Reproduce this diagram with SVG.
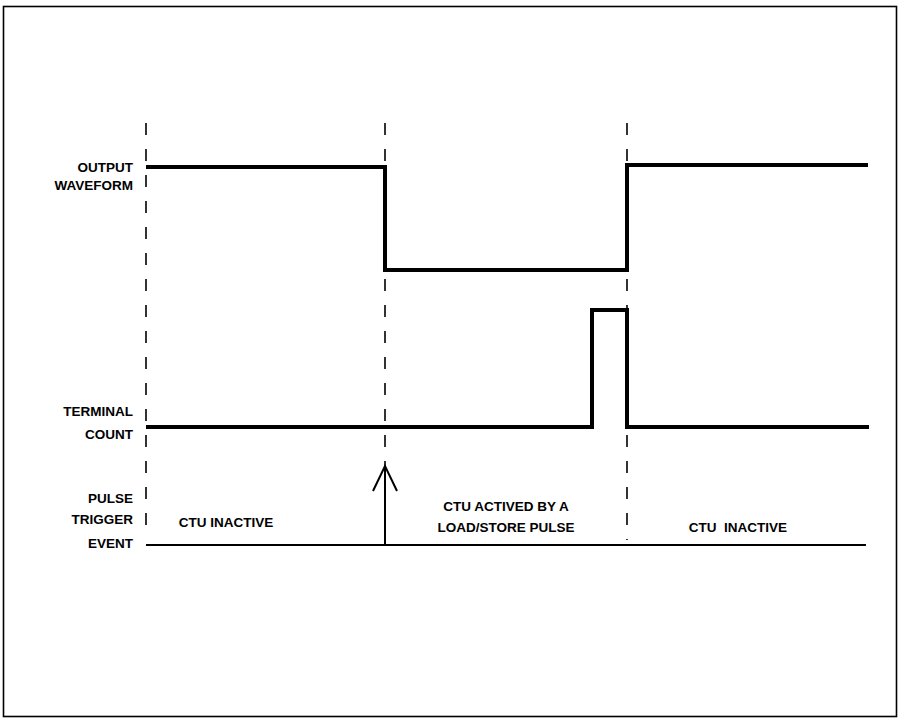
<svg xmlns="http://www.w3.org/2000/svg" width="899" height="719" viewBox="0 0 899 719">
<style>
.lbl{font-family:"Liberation Sans",Arial,sans-serif;font-weight:bold;font-size:13.5px;fill:#000}
.r{text-anchor:end}
.m{text-anchor:middle}
.dash{stroke:#000;stroke-width:1.6;stroke-dasharray:12 14;fill:none}
.wave{stroke:#000;stroke-width:4;fill:none;stroke-linejoin:miter}
.thin{stroke:#000;stroke-width:2;fill:none}
</style>
<rect x="0" y="0" width="899" height="719" fill="#fff"/>
<rect id="frame" x="3.5" y="6.5" width="893" height="710" fill="none" stroke="#000" stroke-width="1.6"/>
<g id="labels">
<text class="lbl r" x="133" y="172">OUTPUT</text>
<text class="lbl r" x="133" y="190">WAVEFORM</text>
<text class="lbl r" x="133" y="416">TERMINAL</text>
<text class="lbl r" x="133" y="439">COUNT</text>
<text class="lbl r" x="133" y="503">PULSE</text>
<text class="lbl r" x="133" y="524">TRIGGER</text>
<text class="lbl r" x="133" y="548">EVENT</text>
</g>
<g id="connectors">
<line id="div1" class="dash" x1="146" y1="123" x2="146" y2="530"/>
<line id="div2" class="dash" x1="385" y1="123" x2="385" y2="470"/>
<line id="div3" class="dash" x1="627" y1="123" x2="627" y2="540"/>
<polyline id="output-wave" class="wave" points="146,167 385,167 385,270 627,270 627,165 868,165"/>
<polyline id="terminal-count" class="wave" points="146,427 592,427 592,310 627,310 627,427 869,427"/>
<line id="pulse-base" class="thin" x1="146" y1="545" x2="866" y2="545"/>
<line id="trigger-arrow" class="thin" x1="385" y1="545" x2="385" y2="466"/>
<polyline class="thin" points="373,491 385,466 397,491"/>
</g>
<g id="region-inactive-1"><text class="lbl m" x="226" y="527">CTU INACTIVE</text></g>
<g id="region-active">
<text class="lbl m" x="506" y="511">CTU ACTIVED BY A</text>
<text class="lbl m" x="506" y="532">LOAD/STORE PULSE</text>
</g>
<g id="region-inactive-2"><text class="lbl m" x="738" y="532" xml:space="preserve">CTU  INACTIVE</text></g>
</svg>
